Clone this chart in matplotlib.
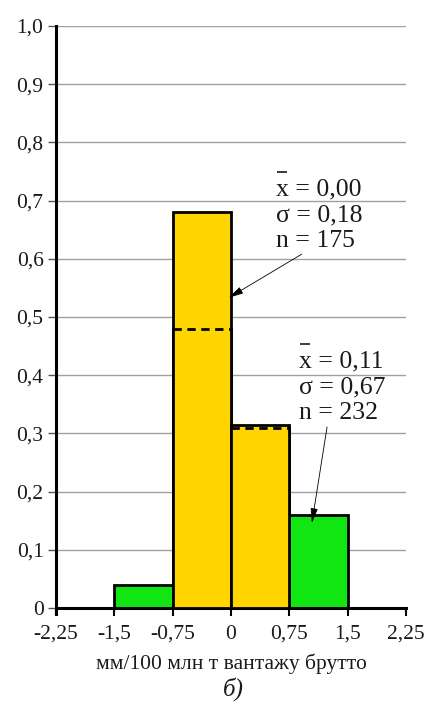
import matplotlib
matplotlib.use("Agg")
import matplotlib.pyplot as plt
from matplotlib.ticker import FixedLocator

plt.rcParams['font.family'] = ['Liberation Serif', 'DejaVu Serif']

# Histogram bins (mm / 100 mln t gross)
bin_edges = [-1.5, -0.75, 0.0, 0.75, 1.5]
# Relative frequencies, wide distribution (n = 232)
freq_wide = [0.04, 0.48, 0.31, 0.16]
# Relative frequencies, narrow distribution (n = 175)
freq_narrow = [0.0, 0.68, 0.315, 0.0]

x_ticks = [-2.25, -1.5, -0.75, 0, 0.75, 1.5, 2.25]
x_tick_labels = ["-2,25", "-1,5", "-0,75", "0", "0,75", "1,5", "2,25"]
y_ticks = [0, 0.1, 0.2, 0.3, 0.4, 0.5, 0.6, 0.7, 0.8, 0.9, 1.0]
y_tick_labels = ["0", "0,1", "0,2", "0,3", "0,4", "0,5", "0,6", "0,7", "0,8", "0,9", "1,0"]

stats_narrow = ["x = 0,00", "σ = 0,18", "n = 175"]
stats_wide = ["x = 0,11", "σ = 0,67", "n = 232"]

GREEN = "#12E612"
YELLOW = "#FFD500"
TEXT = "#1a1a1a"

fig = plt.figure(figsize=(4.32, 7.06), dpi=100)
ax = fig.add_axes([56 / 432, 1 - 608 / 706, 350 / 432, 582 / 706])
ax.set_xlim(-2.25, 2.25)
ax.set_ylim(0, 1.0)

# Grid
for y in y_ticks[1:]:
    ax.axhline(y, color="#a0a0a0", lw=1.0, zorder=0)

lefts = bin_edges[:-1]
widths = [b - a for a, b in zip(bin_edges[:-1], bin_edges[1:])]

# Wide distribution (behind)
ax.bar(lefts, freq_wide, width=widths, align="edge", color=GREEN,
       edgecolor="black", linewidth=2, zorder=2)
# Narrow distribution (in front)
ax.bar(lefts, freq_narrow, width=widths, align="edge",
       color=[YELLOW if v > 0 else "none" for v in freq_narrow],
       edgecolor=["black" if v > 0 else "none" for v in freq_narrow],
       linewidth=2, zorder=3)
# Hidden tops of the wide distribution shown dashed
for l, w, fw, fn in zip(lefts, widths, freq_wide, freq_narrow):
    if fn > fw:
        ax.plot([l, l + w], [fw, fw], color="black", lw=2,
                linestyle=(0, (3, 2)), zorder=4)

# Axes styling
for s in ("top", "right"):
    ax.spines[s].set_visible(False)
ax.spines["left"].set_linewidth(2.2)
ax.spines["bottom"].set_linewidth(2.2)
ax.spines["left"].set_bounds(-0.011, 1.0)
ax.xaxis.set_major_locator(FixedLocator(x_ticks))
ax.yaxis.set_major_locator(FixedLocator(y_ticks))
ax.set_xticklabels(x_tick_labels)
ax.set_yticklabels(y_tick_labels)
ax.tick_params(axis="x", direction="out", length=6, width=1.5, pad=6,
               labelsize=15.5, colors="black", labelcolor=TEXT)
ax.tick_params(axis="y", direction="out", length=6, width=1.0, pad=3,
               labelsize=15.5, colors="#555555", labelcolor=TEXT)

ax.set_xlabel("мм/100 млн т вантажу брутто", fontsize=15.5, color=TEXT, labelpad=7)
fig.text(233 / 432, 1 - 689 / 706, "б)", fontsize=18, style="italic",
         ha="center", va="center", color=TEXT)

# Statistics labels with arrows
def stats_block(lines, x0, y0, dy, tail, head):
    for i, s in enumerate(lines):
        ax.text(x0, y0 - i * dy, s, fontsize=18.5, color=TEXT,
                ha="left", va="baseline", zorder=6)
    # bar over x (mean)
    ax.plot([x0 + 0.01, x0 + 0.14], [y0 + 0.040, y0 + 0.040],
            color=TEXT, lw=1.2, zorder=6, solid_capstyle="butt")
    ax.annotate("", xy=head, xytext=tail,
                arrowprops=dict(arrowstyle="-|>,head_length=0.9,head_width=0.22",
                                color="black", lw=0.6, shrinkA=0, shrinkB=0),
                zorder=7)

stats_block(stats_narrow, 0.58, (608 - 195) / 582, 26 / 582,
            tail=(0.91, 0.608), head=(-0.03, 0.533))
stats_block(stats_wide, 0.88, (608 - 367) / 582, 26 / 582,
            tail=(1.235, 0.311), head=(1.04, 0.146))

fig.savefig("out.png", dpi=100)
